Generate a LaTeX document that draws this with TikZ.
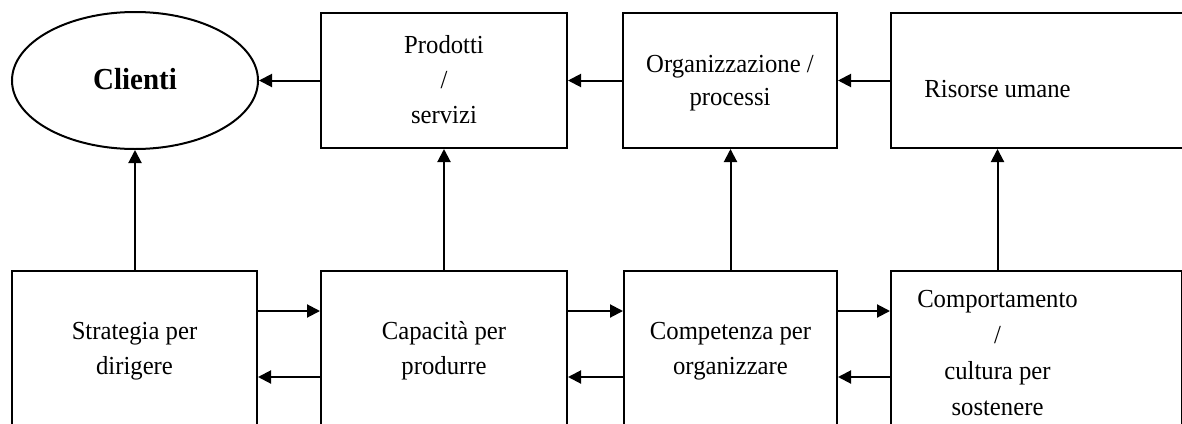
\documentclass[tikz,border=0pt]{standalone}
\usepackage{fontspec}
\setmainfont[FakeStretch=0.95]{Liberation Serif}
\usetikzlibrary{arrows.meta,shapes.geometric}
\begin{document}
\begin{tikzpicture}[x=1pt,y=-1pt,
  box/.style={draw,line width=2pt,rectangle,inner sep=0pt},
  oval/.style={draw,line width=2pt,ellipse,inner sep=0pt},
  lbl/.style={font=\fontsize{26}{35}\selectfont,align=center,inner sep=0pt,anchor=base},
  arr/.style={line width=2pt,-{Triangle[length=13pt,width=13pt]}}]
\useasboundingbox (0,0) rectangle (1182,423);
\clip (0,0) rectangle (1182,423);

% upper row
\node[oval,minimum width=246pt,minimum height=137pt] (clienti) at (135,80.5) {};
\node[box,minimum width=246pt,minimum height=135pt] (prodotti) at (444,80.5) {};
\node[box,minimum width=214pt,minimum height=135pt] (organizzazione) at (730,80.5) {};
\node[box,minimum width=339pt,minimum height=135pt] (risorse) at (1060.5,80.5) {};

% lower row (runs past the lower edge)
\node[box,minimum width=245pt,minimum height=209pt] (strategia) at (134.5,375.5) {};
\node[box,minimum width=246pt,minimum height=209pt] (capacita) at (444,375.5) {};
\node[box,minimum width=213pt,minimum height=209pt] (competenza) at (730.5,375.5) {};
\node[box,minimum width=291pt,minimum height=209pt] (comportamento) at (1036.5,375.5) {};

% texts (anchored at the baseline of their last line)
\node[lbl,font=\fontsize{30.5}{36}\selectfont\bfseries] (tclienti) at (135,89) {Clienti};
\node[lbl] (tprodotti) at (444,123.5) {Prodotti\\/\\servizi};
\node[lbl,font=\fontsize{26}{33}\selectfont] (torganizzazione) at (730,105) {Organizzazione /\\processi};
\node[lbl] (trisorse) at (997.5,97) {Risorse umane};
\node[lbl] (tstrategia) at (134.5,374) {Strategia per\\dirigere};
\node[lbl] (tcapacita) at (444,374) {Capacità per\\produrre};
\node[lbl] (tcompetenza) at (730.5,374) {Competenza per\\organizzare};
\node[lbl,font=\fontsize{26}{36}\selectfont] (tcomportamento) at (997.5,415) {Comportamento\\/\\cultura per\\sostenere};

% flows along the upper row
\draw[arr] (prodotti.west) -- (clienti.east);
\draw[arr] (organizzazione.west) -- (prodotti.east);
\draw[arr] (risorse.west) -- (organizzazione.east);

% upward links
\draw[arr] (strategia.north -| clienti) -- (clienti.south);
\draw[arr] (capacita.north) -- (prodotti.south);
\draw[arr] (competenza.north) -- (organizzazione.south -| competenza);
\draw[arr] (comportamento.north -| tcomportamento) -- (risorse.south -| tcomportamento);

% two-way links along the lower row
\coordinate (hi) at (0,311);
\coordinate (lo) at (0,377);
\draw[arr] (strategia.east |- hi) -- (capacita.west |- hi);
\draw[arr] (capacita.east |- hi) -- (competenza.west |- hi);
\draw[arr] (competenza.east |- hi) -- (comportamento.west |- hi);
\draw[arr] (capacita.west |- lo) -- (strategia.east |- lo);
\draw[arr] (competenza.west |- lo) -- (capacita.east |- lo);
\draw[arr] (comportamento.west |- lo) -- (competenza.east |- lo);
\end{tikzpicture}
\end{document}
